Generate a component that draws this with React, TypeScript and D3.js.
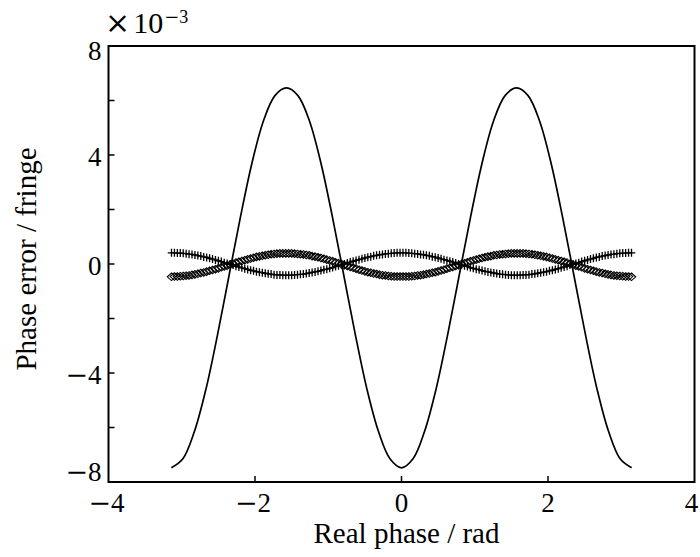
import React from 'react';
import * as d3 from 'd3';

// axis ticks
const xTicks = [-4, -2, 0, 2, 4];
const xMinorTicks = [-2, 0, 2];
const yTicks = [-8, -6, -4, -2, 0, 2, 4, 6, 8];
const yLabels = [-8, -4, 0, 4, 8];

// solid curve, sampled every pi/20 from -pi to pi (values x1e-3)
const solidPhase = d3.range(-20, 21).map(k => (k * Math.PI) / 20);
const solidErr = [
  -7.48, -7.15, -6.15, -4.6, -2.62, -0.45, 1.72, 3.7, 5.25, 6.18, 6.46,
  6.18, 5.25, 3.7, 1.72, -0.45, -2.62, -4.6, -6.15, -7.15, -7.48,
  -7.15, -6.15, -4.6, -2.62, -0.45, 1.72, 3.7, 5.25, 6.18, 6.46,
  6.18, 5.25, 3.7, 1.72, -0.45, -2.62, -4.6, -6.15, -7.15, -7.48,
];

// marker series, sampled every 0.04 rad from -3.14 to 3.14
const markerPhase = d3.range(158).map(i => -3.14 + 0.04 * i);
const plusErr = [
  0.41, 0.41, 0.40, 0.40, 0.39, 0.38, 0.36, 0.35, 0.33, 0.31,
  0.29, 0.26, 0.24, 0.21, 0.18, 0.15, 0.12, 0.09, 0.05, 0.02,
  -0.01, -0.04, -0.08, -0.11, -0.14, -0.17, -0.20, -0.23, -0.25, -0.28,
  -0.30, -0.32, -0.34, -0.36, -0.37, -0.39, -0.40, -0.40, -0.41, -0.41,
  -0.41, -0.41, -0.40, -0.39, -0.38, -0.37, -0.35, -0.33, -0.31, -0.29,
  -0.27, -0.24, -0.21, -0.19, -0.16, -0.13, -0.09, -0.06, -0.03, 0.00,
  0.04, 0.07, 0.10, 0.13, 0.16, 0.19, 0.22, 0.25, 0.27, 0.30,
  0.32, 0.34, 0.35, 0.37, 0.38, 0.39, 0.40, 0.41, 0.41,
  0.41, 0.41, 0.40, 0.39, 0.38, 0.37, 0.35, 0.34, 0.32,
  0.30, 0.27, 0.25, 0.22, 0.19, 0.16, 0.13, 0.10, 0.07, 0.04,
  0.00, -0.03, -0.06, -0.09, -0.13, -0.16, -0.19, -0.21, -0.24, -0.27,
  -0.29, -0.31, -0.33, -0.35, -0.37, -0.38, -0.39, -0.40, -0.41, -0.41,
  -0.41, -0.41, -0.40, -0.40, -0.39, -0.37, -0.36, -0.34, -0.32, -0.30,
  -0.28, -0.25, -0.23, -0.20, -0.17, -0.14, -0.11, -0.08, -0.04, -0.01,
  0.02, 0.05, 0.09, 0.12, 0.15, 0.18, 0.21, 0.24, 0.26, 0.29,
  0.31, 0.33, 0.35, 0.36, 0.38, 0.39, 0.40, 0.40, 0.41, 0.41,
];
const diamondErr = [
  -0.47, -0.46, -0.46, -0.45, -0.44, -0.43, -0.42, -0.40, -0.38, -0.36,
  -0.33, -0.31, -0.28, -0.25, -0.22, -0.19, -0.16, -0.12, -0.09, -0.06,
  -0.02, 0.01, 0.05, 0.08, 0.11, 0.14, 0.17, 0.20, 0.23, 0.26,
  0.28, 0.30, 0.32, 0.34, 0.36, 0.37, 0.38, 0.39, 0.39, 0.39,
  0.39, 0.39, 0.38, 0.37, 0.36, 0.35, 0.33, 0.32, 0.29, 0.27,
  0.25, 0.22, 0.19, 0.16, 0.13, 0.10, 0.06, 0.03, 0.00, -0.04,
  -0.07, -0.11, -0.14, -0.17, -0.21, -0.24, -0.27, -0.30, -0.32, -0.35,
  -0.37, -0.39, -0.41, -0.42, -0.44, -0.45, -0.46, -0.46, -0.46,
  -0.46, -0.46, -0.46, -0.45, -0.44, -0.42, -0.41, -0.39, -0.37,
  -0.35, -0.32, -0.30, -0.27, -0.24, -0.21, -0.17, -0.14, -0.11, -0.07,
  -0.04, 0.00, 0.03, 0.06, 0.10, 0.13, 0.16, 0.19, 0.22, 0.25,
  0.27, 0.29, 0.32, 0.33, 0.35, 0.36, 0.37, 0.38, 0.39, 0.39,
  0.39, 0.39, 0.39, 0.38, 0.37, 0.36, 0.34, 0.32, 0.30, 0.28,
  0.26, 0.23, 0.20, 0.17, 0.14, 0.11, 0.08, 0.05, 0.01, -0.02,
  -0.06, -0.09, -0.12, -0.16, -0.19, -0.22, -0.25, -0.28, -0.31, -0.33,
  -0.36, -0.38, -0.40, -0.42, -0.43, -0.44, -0.45, -0.46, -0.46, -0.47,
];

const width = 700;
const height = 557;
const serif = "'Liberation Serif', 'Times New Roman', serif";

// tick number with a wide minus like the original
const Num = ({ v }: { v: number }) =>
  v < 0 ? (
    <>
      <tspan fontFamily="'DejaVu Serif'" fontWeight={300}>−</tspan>
      {Math.abs(v)}
    </>
  ) : (
    <>{v}</>
  );

// the top and bottom y labels sit inside the axis range
const yLabelShift = (t: number) => (t === 8 ? 14 : t === -8 ? -1 : 10.5);

export default function App() {
  const x = d3.scaleLinear().domain([-4, 4]).range([108.5, 694.5]);
  const y = d3.scaleLinear().domain([-8, 8]).range([482, 46]);

  const solidLine = d3
    .line<number>()
    .x((_, i) => x(solidPhase[i]))
    .y(d => y(d))
    .curve(d3.curveCatmullRom.alpha(0.5));

  const plusPath = 'M-3.8,0H3.8M0,-4V4';
  const diamondPath = 'M0,-3.8L4.2,0L0,3.8L-4.2,0Z';

  const [x0, x1] = x.range();
  const [y0, y1] = y.range();

  return (
    <svg
      width={width}
      height={height}
      style={{ position: 'absolute', left: 0, top: 0, background: '#fff' }}
      fontFamily={serif}
    >
      <rect width={width} height={height} fill="#fff" />

      {/* curves */}
      <path d={solidLine(solidErr) ?? ''} fill="none" stroke="#000" strokeWidth={1.7} />
      <g stroke="#000" strokeWidth={1.3} fill="none">
        {plusErr.map((v, i) => (
          <path key={'p' + i} d={plusPath} transform={`translate(${x(markerPhase[i])},${y(v)})`} />
        ))}
      </g>
      <g stroke="#000" strokeWidth={1.1} fill="none">
        {diamondErr.map((v, i) => (
          <path key={'d' + i} d={diamondPath} transform={`translate(${x(markerPhase[i])},${y(v)})`} />
        ))}
      </g>

      {/* frame */}
      <rect x={x0} y={y1} width={x1 - x0} height={y0 - y1} fill="none" stroke="#000" strokeWidth={2} />

      {/* y ticks, inward */}
      {yTicks.map(t => (
        <line key={'yt' + t} x1={x0} x2={x0 + 6} y1={y(t)} y2={y(t)} stroke="#000" strokeWidth={1.5} />
      ))}
      {/* x ticks, inward */}
      {xMinorTicks.map(t => (
        <line key={'xt' + t} x1={x(t)} x2={x(t)} y1={y0} y2={y0 - 6} stroke="#000" strokeWidth={1.5} />
      ))}

      {/* y labels */}
      {yLabels.map(t => (
        <text key={'yl' + t} x={x0 - 7} y={y(t) + yLabelShift(t)} textAnchor="end" fontSize={27}>
          <Num v={t} />
        </text>
      ))}
      {/* x labels */}
      {xTicks.map(t => (
        <text key={'xl' + t} x={x(t) - (t < 0 ? 2 : t === 4 ? 3 : 0)} y={512} textAnchor="middle" fontSize={27}>
          <Num v={t} />
        </text>
      ))}

      {/* multiplier */}
      <text x={105} y={33} fontSize={30}>
        <tspan fontFamily="'DejaVu Serif'" fontWeight={300} fontSize={30}>×</tspan>
        <tspan dx={3}>10</tspan>
        <tspan fontSize={18} dy={-10} dx={1}>
          <tspan fontFamily="'DejaVu Serif'" fontWeight={300}>−</tspan>3
        </tspan>
      </text>

      {/* axis titles */}
      <text x={(x0 + x1) / 2 + 5} y={543} textAnchor="middle" fontSize={29}>
        Real phase / rad
      </text>
      <text
        transform={`translate(36,${(y0 + y1) / 2 - 5}) rotate(-90)`}
        textAnchor="middle"
        fontSize={29}
      >
        Phase error / fringe
      </text>
    </svg>
  );
}
